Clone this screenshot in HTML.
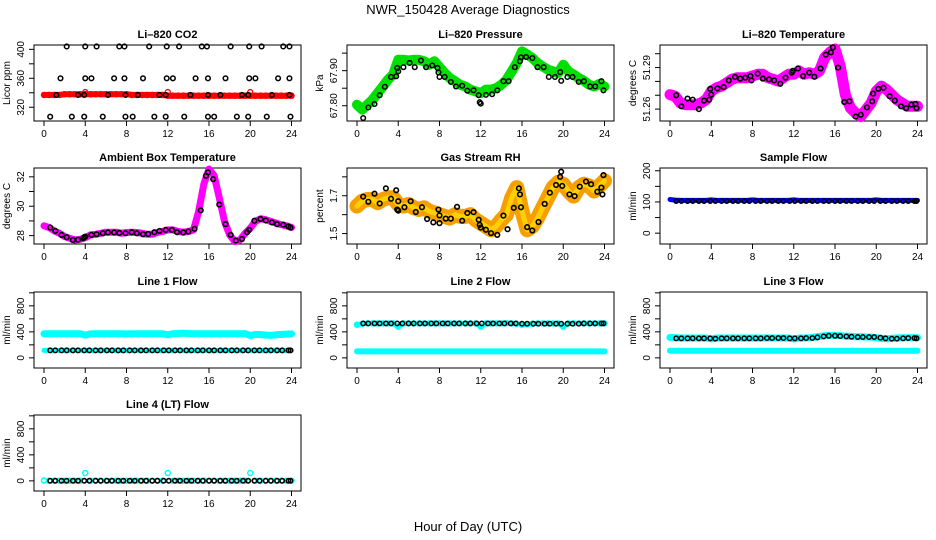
<!DOCTYPE html>
<html><head><meta charset="utf-8"><style>
body{margin:0;background:#fff;}
svg{display:block;font-family:"Liberation Sans",sans-serif;}
</style></head><body>
<svg id="c" width="936" height="540" xmlns="http://www.w3.org/2000/svg">
<rect width="936" height="540" fill="#fff"/>
<text x="468" y="14" text-anchor="middle" font-size="13">NWR_150428  Average Diagnostics</text>
<text x="468" y="531" text-anchor="middle" font-size="13">Hour of Day (UTC)</text>
</svg>
<script>
const H49 = [];
for (let i = 0; i <= 48; i++) H49.push(i * 0.5);
const HB = [0.6,1.1,1.7,2.2,2.8,3.3,3.9,4.4,5.0,5.5,6.1,6.6,7.2,7.7,8.3,8.8,9.4,9.9,10.5,11.0,11.6,12.1,12.7,13.2,13.8,14.3,14.9,15.4,16.0,16.5,17.1,17.6,18.2,18.7,19.3,19.8,20.4,20.9,21.5,22.0,22.6,23.1,23.7,23.9];

// CO2
const co2Red = [337,337,337,337,338,338,338,338,338,338,338,338,338,338,338,338,338,337,337,337,337,337,337,337,336,336,336,336,336,336,336,336,336,336,336,336,336,336,336,336,336,336,336,336,336,336,336,336,336];
const co2RedOutH = [4,12,20];
const co2RedOutV = [341,341,341];
const co2BlackH = [2.2,4.0,5.1,7.3,7.8,10.2,11.9,13.1,15.3,15.8,18.1,19.9,21.1,23.2,23.8,1.6,4.0,4.6,6.8,7.8,9.6,11.9,12.5,14.7,15.9,17.6,19.9,20.5,22.7,23.8,1.2,3.3,3.9,6.2,7.9,9.1,11.2,11.8,14.2,15.9,17.1,19.2,19.8,22.1,23.8,0.6,2.7,3.9,5.7,7.9,8.6,10.7,11.8,13.6,15.9,16.5,18.7,19.8,21.6,23.9];
const co2BlackV = [404,404,404,404,404,404,404,404,404,404,404,404,404,404,404,360,360,360,360,360,360,360,360,360,360,360,360,360,360,360,337,337,337,337,337,337,337,337,337,337,337,337,337,337,337,307,307,307,307,307,307,307,307,307,307,307,307,307,307,307];

// Pressure
const presGreen = [67.803,67.789,67.803,67.817,67.836,67.855,67.874,67.889,67.931,67.931,67.929,67.931,67.931,67.927,67.917,67.927,67.910,67.893,67.879,67.870,67.860,67.855,67.846,67.841,67.836,67.846,67.846,67.850,67.860,67.874,67.898,67.922,67.955,67.946,67.936,67.922,67.912,67.903,67.898,67.893,67.917,67.898,67.889,67.879,67.871,67.860,67.855,67.862,67.855];
const presBlackH = [0.6,1.1,1.7,2.2,2.7,3.3,3.8,3.9,4.0,4.5,5.1,5.6,6.2,6.7,7.3,7.8,7.9,8.0,8.5,9.1,9.6,10.2,10.7,11.3,11.8,11.9,12.0,12.5,13.1,13.6,14.2,14.7,15.3,15.8,15.9,16.4,17.0,17.5,18.1,18.6,19.2,19.7,19.8,20.4,20.9,21.5,22.0,22.6,23.1,23.7,23.9];
const presBlackV = [67.765,67.795,67.805,67.830,67.854,67.882,67.884,67.908,67.898,67.910,67.922,67.910,67.929,67.910,67.915,67.908,67.895,67.882,67.882,67.868,67.855,67.857,67.843,67.844,67.830,67.810,67.806,67.831,67.833,67.844,67.870,67.870,67.910,67.927,67.938,67.939,67.936,67.910,67.910,67.882,67.882,67.896,67.871,67.882,67.882,67.868,67.870,67.855,67.855,67.870,67.844];

// Li-820 temperature
const ltMag = [51.2705,51.2693,51.2644,51.2632,51.2632,51.2632,51.2644,51.2668,51.2729,51.2754,51.2766,51.2790,51.2815,51.2827,51.2827,51.2827,51.2839,51.2851,51.2851,51.2827,51.2815,51.2802,51.2827,51.2851,51.2851,51.2876,51.2851,51.2863,51.2851,51.2876,51.2973,51.3010,51.3034,51.2912,51.2705,51.2607,51.2571,51.2546,51.2595,51.2644,51.2729,51.2766,51.2741,51.2705,51.2668,51.2644,51.2620,51.2620,51.2620];
const ltBlackH = [0.6,1.1,1.7,2.2,2.8,3.3,3.8,3.9,4.0,4.6,5.2,5.7,6.3,6.8,7.3,7.8,7.9,8.5,9.0,9.6,10.1,10.7,11.2,11.8,11.9,12.4,12.9,13.5,14.0,14.6,15.1,15.6,15.8,16.3,16.9,17.4,18.0,18.5,19.1,19.6,19.7,20.2,20.7,21.3,21.8,22.4,22.9,23.4,23.8,23.9];
const ltBlackV = [51.2700,51.2620,51.2676,51.2668,51.2600,51.2661,51.2668,51.2746,51.2705,51.2749,51.2759,51.2807,51.2832,51.2820,51.2827,51.2839,51.2807,51.2856,51.2820,51.2815,51.2807,51.2783,51.2827,51.2863,51.2876,51.2893,51.2839,51.2863,51.2834,51.2893,51.2993,51.3010,51.3046,51.2900,51.2651,51.2656,51.2546,51.2559,51.2612,51.2656,51.2712,51.2746,51.2754,51.2693,51.2661,51.2620,51.2607,51.2632,51.2637,51.2607];

// Ambient box temperature
const abMag = [28.67,28.55,28.32,28.16,27.93,27.82,27.70,27.75,27.86,28.05,28.09,28.16,28.23,28.23,28.23,28.16,28.21,28.23,28.21,28.16,28.09,28.09,28.21,28.28,28.39,28.39,28.28,28.23,28.28,28.39,29.66,31.49,32.53,32.07,30.57,28.97,28.05,27.59,27.70,28.16,28.51,28.97,29.15,29.08,28.97,28.85,28.74,28.67,28.55];
const abBlackH = [0.6,1.1,1.7,2.2,2.8,3.3,3.8,3.9,4.0,4.6,5.1,5.7,6.2,6.8,7.3,7.9,8.5,9.0,9.6,10.1,10.7,11.2,11.8,12.4,12.9,13.5,14.0,14.6,15.2,15.7,15.9,16.4,17.0,17.6,18.1,18.6,19.2,19.7,19.9,20.4,21.0,21.5,22.1,22.6,23.2,23.7,23.9];
const abBlackV = [28.55,28.32,28.05,27.89,27.70,27.72,27.82,27.89,27.93,28.05,28.09,28.16,28.21,28.21,28.18,28.16,28.23,28.16,28.09,28.11,28.23,28.32,28.39,28.39,28.23,28.21,28.28,28.46,29.72,32.07,32.30,31.84,30.11,28.78,28.05,27.66,27.77,28.23,28.39,29.01,29.13,29.03,28.90,28.78,28.74,28.62,28.55];

// Gas stream RH
const rhBand = [1.645,1.671,1.680,1.680,1.663,1.680,1.689,1.689,1.654,1.645,1.654,1.636,1.627,1.636,1.618,1.609,1.600,1.591,1.582,1.600,1.591,1.591,1.600,1.573,1.555,1.538,1.520,1.538,1.573,1.600,1.689,1.743,1.618,1.520,1.538,1.582,1.636,1.689,1.743,1.770,1.761,1.725,1.698,1.743,1.761,1.752,1.725,1.752,1.779];
const rhBlackH = [0.6,1.1,1.7,2.2,2.8,3.3,3.8,3.9,4.0,4.0,4.6,5.2,5.7,6.3,6.8,7.4,7.9,8.0,8.0,8.6,9.1,9.7,10.2,10.7,11.3,11.8,11.9,12.0,12.5,13.0,13.6,14.2,14.6,15.2,15.7,15.8,15.9,16.5,17.0,17.6,18.2,18.7,19.3,19.7,19.8,19.9,20.6,21.1,21.6,22.2,22.7,23.3,23.7,23.8,23.9];
const rhBlackV = [1.695,1.668,1.711,1.659,1.739,1.684,1.729,1.627,1.671,1.621,1.639,1.671,1.614,1.639,1.577,1.559,1.627,1.596,1.555,1.579,1.579,1.641,1.568,1.609,1.613,1.573,1.546,1.532,1.520,1.502,1.493,1.595,1.523,1.636,1.739,1.707,1.639,1.534,1.516,1.561,1.657,1.716,1.757,1.800,1.827,1.752,1.707,1.698,1.748,1.775,1.761,1.721,1.743,1.707,1.809];

// Flows
const sfBlue = [108,106,105,105,105,105,105,105,107,105,105,105,105,105,105,105,107,105,105,105,105,105,105,105,107,105,105,105,105,105,105,105,105,105,105,105,105,105,105,105,107,105,105,105,105,105,105,105,105];
const sfBlack = [103,103,103,103,103,103,103,103,103,103,103,103,103,103,103,103,103,103,103,103,103,103,103,103,103,103,103,103,103,103,103,103,103,103,103,103,103,103,103,103,103,103,103,103];
const l1CyanHi = [370,372,372,372,370,370,372,372,350,368,370,370,372,372,372,370,368,372,372,372,372,372,370,372,355,372,375,378,375,372,372,370,372,372,372,372,372,370,372,372,345,360,360,350,345,355,360,365,368];
const l1CyanLo = [115,115,115,115,115,115,115,115,115,115,115,115,115,115,115,115,115,115,115,115,115,115,115,115,115,115,115,115,115,115,115,115,115,115,115,115,115,115,115,115,115,115,115,115,115,115,115,115,115];
const l1Black = [115,115,115,115,115,115,115,115,115,115,115,115,115,115,115,115,115,115,115,115,115,115,115,115,115,115,115,115,115,115,115,115,115,115,115,115,115,115,115,115,115,115,115,115];
const l2CyanHi = [510,525,530,530,530,530,530,530,480,530,530,530,530,530,530,530,530,530,530,530,530,530,530,530,480,530,530,530,530,535,530,525,510,515,525,530,530,530,530,530,480,530,530,530,530,530,530,530,530];
const l2CyanLo = [100,100,100,100,100,100,100,100,100,100,100,100,100,100,100,100,100,100,100,100,100,100,100,100,100,100,100,100,100,100,100,100,100,100,100,100,100,100,100,100,100,100,100,100,100,100,100,100,100];
const l2Black = [530,530,530,530,530,530,530,530,530,530,530,530,530,530,530,530,530,530,530,530,530,530,530,530,530,530,530,530,525,525,525,525,525,525,525,525,525,525,525,530,530,530,530,530];
const l3CyanHi = [315,310,305,305,305,305,305,305,290,305,305,305,305,305,305,305,305,305,305,305,305,305,305,305,290,305,305,310,320,330,340,345,345,340,335,330,325,325,320,320,310,300,295,300,305,310,310,310,310];
const l3CyanLo = [110,110,110,110,110,110,110,110,110,110,110,110,110,110,110,110,110,110,110,110,110,110,110,110,110,110,110,110,110,110,110,110,110,110,110,110,110,110,110,110,110,110,110,110,110,110,110,110,110];
const l3Black = [300,300,300,300,300,300,300,295,300,300,300,300,300,300,300,300,305,305,305,305,300,300,300,305,305,315,330,340,340,335,330,325,320,320,320,320,310,300,295,295,300,305,305,300];
const l4Cyan = [5,2,2,2,2,2,2,2,120,2,2,2,2,2,2,2,2,2,2,2,2,2,2,2,120,2,2,2,2,2,2,2,2,2,2,2,2,2,2,2,120,2,2,2,2,2,2,2,2];
const l4Black = [2,2,2,2,2,2,2,2,2,2,2,2,2,2,2,2,2,2,2,2,2,2,2,2,2,2,2,2,2,2,2,2,2,2,2,2,2,2,2,2,2,2,2,2];

const NS = "http://www.w3.org/2000/svg";
const svg = document.getElementById('c');
const XT = [0,4,8,12,16,20,24];
const COLS = [34, 347, 660], ROWS = [45, 168, 292, 415], W = 267, HT = 76;

function mk(tag, attrs, parent) {
  const e = document.createElementNS(NS, tag);
  for (const k in attrs) e.setAttribute(k, attrs[k]);
  (parent || svg).appendChild(e);
  return e;
}

function panel(name, col, row, title, ylab, dom, ticks, labels) {
  const L = COLS[col], T = ROWS[row], B = T + HT;
  const g = mk('g', {});
  
  
  const xs = h => L + 10 + h * (247.5 / 24);
  const ys = v => B - (v - dom[0]) / (dom[1] - dom[0]) * HT;
  const t = mk('text', {x: L + W / 2, y: T - 7, 'text-anchor': 'middle', 'font-size': 11, 'font-weight': 'bold'}, g);
  t.textContent = title;
  
  
  const box = mk('rect', {x: L, y: T, width: W, height: HT, fill: 'none', stroke: '#000', 'stroke-width': 1}, g);
  
  
  XT.forEach(h => {
    mk('line', {x1: xs(h), x2: xs(h), y1: B, y2: B + 5, stroke: '#000'}, g);
    const tx = mk('text', {x: xs(h), y: B + 16, 'text-anchor': 'middle', 'font-size': 10}, g);
    tx.textContent = h;
    
    
  });
  ticks.forEach(v => {
    mk('line', {x1: L - 5, x2: L, y1: ys(v), y2: ys(v), stroke: '#000'}, g);
  });
  labels.forEach(v => {
    const tx = mk('text', {x: L - 10, y: ys(v), 'text-anchor': 'middle', 'font-size': 10, transform: `rotate(-90 ${L - 10} ${ys(v)})`}, g);
    tx.textContent = v;
    
    
  });
  const yl = mk('text', {x: L - 24, y: T + HT / 2, 'text-anchor': 'middle', 'font-size': 10, transform: `rotate(-90 ${L - 24} ${T + HT / 2})`}, g);
  yl.textContent = ylab;
  
  
  const clip = mk('g', {}, g);
  return {g: clip, xs, ys};
}

function band(p, hs, vs, color, width, nm) {
  const pts = hs.map((h, i) => p.xs(h).toFixed(1) + ',' + p.ys(vs[i]).toFixed(1)).join(' ');
  const pl = mk('polyline', {points: pts, fill: 'none', stroke: color, 'stroke-width': width, 'stroke-linejoin': 'round', 'stroke-linecap': 'round'}, p.g);
  
  
}
function dots(p, hs, vs, color, r, sw, nm) {
  hs.forEach((h, i) => {
    const c = mk('circle', {cx: p.xs(h), cy: p.ys(vs[i]), r: r, fill: 'none', stroke: color, 'stroke-width': sw}, p.g);
    
    
  });
}

// Panel 1 CO2
let p = panel('co2', 0, 0, 'Li\u2013820 CO2', 'Licor ppm', [301, 406], [320,340,360,380,400], [320,360,400]);
band(p, H49, co2Red, '#f00', 6, 'co2-red-series');
dots(p, H49, co2Red, '#f00', 2.5, 1.5, 'co2-red-point');
dots(p, co2RedOutH, co2RedOutV, '#f00', 2.5, 1.3, 'co2-red-outlier');
dots(p, co2BlackH, co2BlackV, '#000', 2.3, 1.5, 'co2-black-point');

// Panel 2 pressure
p = panel('pressure', 1, 0, 'Li\u2013820 Pressure', 'kPa', [67.7565, 67.9732], [67.80,67.85,67.90,67.95], ['67.80','67.90']);
band(p, H49, presGreen, '#00e000', 10, 'pressure-green-series');
dots(p, H49, presGreen, '#00e000', 2.5, 1.5, 'pressure-green-point');
dots(p, presBlackH, presBlackV, '#000', 2.3, 1.5, 'pressure-black-point');

// Panel 3 Li temp
p = panel('li820-temp', 2, 0, 'Li\u2013820 Temperature', 'degrees C', [51.2514, 51.3063], [51.26,51.27,51.28,51.29,51.30], ['51.26','51.29']);
band(p, H49, ltMag, '#f0f', 11, 'li820-temp-magenta-series');
dots(p, H49, ltMag, '#f0f', 2.5, 1.5, 'li820-temp-magenta-point');
dots(p, ltBlackH, ltBlackV, '#000', 2.3, 1.6, 'li820-temp-black-point');

// Panel 4 ambient
p = panel('ambient-temp', 0, 1, 'Ambient Box Temperature', 'degrees C', [27.43, 32.6], [28,29,30,31,32], [28,30,32]);
band(p, H49, abMag, '#f0f', 7, 'ambient-magenta-series');
dots(p, abBlackH, abBlackV, '#000', 2.3, 1.6, 'ambient-black-point');

// Panel 5 RH
p = panel('gas-rh', 1, 1, 'Gas Stream RH', 'percent', [1.4448, 1.8467], [1.5,1.6,1.7,1.8], ['1.5','1.7']);
band(p, H49, rhBand, '#f5a000', 15, 'rh-orange-series');
band(p, H49, rhBand, '#ffd000', 5, 'rh-yellow-series');
dots(p, rhBlackH, rhBlackV, '#000', 2.3, 1.6, 'rh-black-point');

// Panel 6 sample flow
p = panel('sample-flow', 2, 1, 'Sample Flow', 'ml/min', [-34.7, 208.8], [0,50,100,150,200], [0,100,200]);
band(p, H49, sfBlue, '#0000ff', 5, 'sample-flow-blue-series');
dots(p, HB, sfBlack, '#000', 2.2, 1.5, 'sample-flow-black-point');

const FD = [-156, 1013], FT = [0,200,400,600,800,1000], FL = [0,400,800];
// Line 1
p = panel('line1-flow', 0, 2, 'Line 1 Flow', 'ml/min', FD, FT, FL);
band(p, H49, l1CyanHi, '#00ffff', 7, 'line1-cyan-upper');
band(p, H49, l1CyanLo, '#00ffff', 5, 'line1-cyan-lower');
dots(p, HB, l1Black, '#000', 2.2, 1.5, 'line1-black-point');
// Line 2
p = panel('line2-flow', 1, 2, 'Line 2 Flow', 'ml/min', FD, FT, FL);
band(p, H49, l2CyanHi, '#00ffff', 5, 'line2-cyan-upper');
dots(p, H49, l2CyanHi, '#00ffff', 2.5, 1.5, 'line2-cyan-point');
band(p, H49, l2CyanLo, '#00ffff', 6, 'line2-cyan-lower');
dots(p, HB, l2Black, '#000', 2.2, 1.5, 'line2-black-point');
// Line 3
p = panel('line3-flow', 2, 2, 'Line 3 Flow', 'ml/min', FD, FT, FL);
band(p, H49, l3CyanHi, '#00ffff', 7, 'line3-cyan-upper');
band(p, H49, l3CyanLo, '#00ffff', 6, 'line3-cyan-lower');
dots(p, HB, l3Black, '#000', 2.2, 1.5, 'line3-black-point');
// Line 4
p = panel('line4-flow', 0, 3, 'Line 4 (LT) Flow', 'ml/min', FD, FT, FL);
dots(p, H49, l4Cyan, '#00ffff', 2.5, 1.5, 'line4-cyan-point');
dots(p, HB, l4Black, '#000', 2.2, 1.6, 'line4-black-point');
</script>
</body></html>
